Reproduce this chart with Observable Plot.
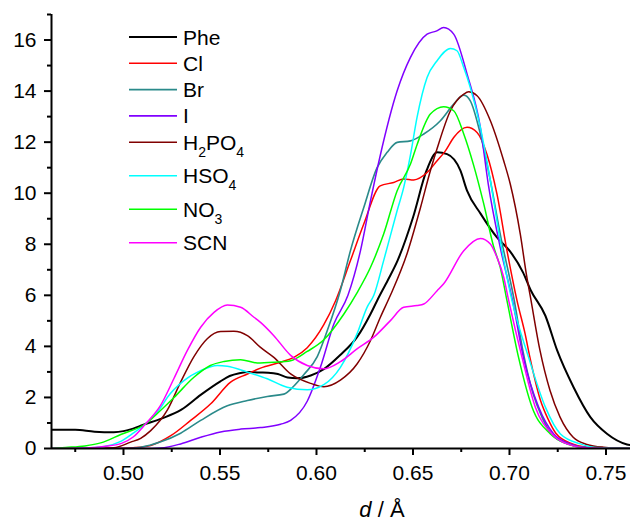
<!DOCTYPE html>
<html>
<head>
<meta charset="utf-8">
<script src="https://cdn.jsdelivr.net/npm/d3@7"></script>
<script src="https://cdn.jsdelivr.net/npm/@observablehq/plot@0.6"></script>
<style>
  body { margin: 0; background: #fff; font-family: "Liberation Sans", Arial, sans-serif; }
</style>
</head>
<body>
<div id="wrap"></div>
<script>
// ---- data (d in Å, density) ----
const phe = [[0.4627,0.73],[0.475,0.73],[0.485,0.66],[0.495,0.64],[0.50,0.68],[0.505,0.78],[0.51,0.92],[0.52,1.18],[0.53,1.52],[0.54,2.1],[0.55,2.62],[0.555,2.84],[0.56,2.95],[0.565,3.0],[0.57,2.98],[0.575,2.97],[0.58,2.92],[0.585,2.78],[0.59,2.75],[0.597,2.86],[0.604,3.12],[0.612,3.64],[0.621,4.36],[0.628,5.27],[0.6314,5.79],[0.637,6.6],[0.642,7.36],[0.650,9.05],[0.657,10.88],[0.6625,11.6],[0.6677,11.53],[0.6746,10.88],[0.678,10.1],[0.685,9.2],[0.6935,8.27],[0.70,7.75],[0.707,6.9],[0.711,6.2],[0.7186,5.2],[0.7247,3.84],[0.7332,2.4],[0.7419,1.23],[0.7505,0.58],[0.7609,0.16],[0.7627,0.13]];
const cl = [[0.4627,0],[0.495,0],[0.505,0.03],[0.5141,0.12],[0.5245,0.5],[0.5348,1.1],[0.5452,1.75],[0.5555,2.6],[0.5642,2.92],[0.571,3.15],[0.5814,3.38],[0.5883,3.57],[0.5952,3.95],[0.6038,4.85],[0.6099,5.79],[0.6176,7.36],[0.6245,8.79],[0.633,10.29],[0.64,10.42],[0.6452,10.56],[0.6504,10.52],[0.6573,10.81],[0.6625,11.27],[0.6668,11.66],[0.6711,12.18],[0.678,12.58],[0.6832,12.38],[0.6883,11.53],[0.6935,9.97],[0.6987,7.75],[0.7039,5.79],[0.7081,4.49],[0.7105,3.6],[0.716,1.9],[0.72,1.15],[0.724,0.6],[0.7326,0.18],[0.74,0.05],[0.7627,0]];
const br = [[0.4627,0],[0.50,0],[0.5089,0.05],[0.5193,0.26],[0.5296,0.6],[0.54,1.1],[0.5538,1.67],[0.5642,1.88],[0.5745,2.04],[0.5831,2.13],[0.5883,2.45],[0.5935,2.9],[0.6004,3.6],[0.6056,4.62],[0.6124,6.2],[0.6176,7.75],[0.6245,9.44],[0.6314,11.0],[0.6366,11.6],[0.6418,11.99],[0.6487,12.05],[0.6556,12.32],[0.6642,12.84],[0.6711,13.49],[0.6763,13.84],[0.6797,13.62],[0.6849,12.32],[0.6901,10.49],[0.6952,8.4],[0.7025,5.79],[0.707,3.8],[0.712,2.2],[0.717,1.2],[0.722,0.55],[0.73,0.18],[0.74,0.04],[0.7627,0]];
const iod = [[0.4627,0],[0.51,0],[0.5193,0.02],[0.5296,0.18],[0.54,0.44],[0.5503,0.65],[0.5607,0.76],[0.571,0.82],[0.5814,0.95],[0.5866,1.1],[0.5952,1.85],[0.6021,3.2],[0.609,4.88],[0.6163,6.0],[0.6228,7.75],[0.628,9.71],[0.6328,11.4],[0.6418,14.01],[0.6487,15.32],[0.6573,16.23],[0.662,16.35],[0.6659,16.49],[0.6711,16.23],[0.678,14.67],[0.6849,12.58],[0.689,10.36],[0.6952,7.88],[0.7016,5.79],[0.7072,3.57],[0.7151,1.62],[0.7229,0.57],[0.7315,0.18],[0.74,0.04],[0.7627,0]];
const h2po4 = [[0.4627,0],[0.485,0],[0.495,0.03],[0.5037,0.25],[0.5089,0.4],[0.5141,0.7],[0.5227,1.5],[0.5296,2.6],[0.5365,3.6],[0.5434,4.3],[0.5503,4.58],[0.5572,4.59],[0.5642,4.42],[0.571,3.96],[0.5779,3.57],[0.5866,2.92],[0.597,2.55],[0.6038,2.42],[0.6124,2.68],[0.621,3.31],[0.628,4.23],[0.6331,5.14],[0.6383,6.0],[0.647,7.65],[0.6539,9.44],[0.659,10.88],[0.6625,11.75],[0.6694,13.23],[0.6763,13.88],[0.6789,13.97],[0.6832,13.82],[0.6901,12.84],[0.697,11.27],[0.7004,10.36],[0.7056,8.4],[0.709,6.71],[0.7107,6.0],[0.7158,3.84],[0.721,2.27],[0.7262,1.23],[0.733,0.44],[0.7401,0.16],[0.7487,0.05],[0.7627,0]];
const hso4 = [[0.4627,0],[0.48,0.02],[0.49,0.08],[0.4986,0.28],[0.505,0.6],[0.5115,0.97],[0.5193,1.6],[0.5227,2.0],[0.5313,2.66],[0.54,3.05],[0.5486,3.25],[0.5538,3.22],[0.5642,2.99],[0.5745,2.73],[0.5848,2.4],[0.5952,2.3],[0.6038,2.5],[0.6124,3.18],[0.621,4.49],[0.6262,5.53],[0.6297,6.0],[0.6348,7.36],[0.6418,9.32],[0.6452,10.23],[0.6487,11.5],[0.6521,12.97],[0.6573,14.53],[0.6625,15.19],[0.6694,15.67],[0.6728,15.58],[0.6763,14.92],[0.6797,14.14],[0.6849,12.58],[0.6901,10.49],[0.6952,8.14],[0.7013,5.79],[0.7099,3.57],[0.7186,1.62],[0.7264,0.57],[0.7367,0.18],[0.745,0.04],[0.7627,0]];
const no3 = [[0.4627,0],[0.47,0.04],[0.48,0.1],[0.4882,0.22],[0.4986,0.55],[0.5115,0.97],[0.5193,1.5],[0.5262,2.0],[0.5365,2.79],[0.545,3.25],[0.5521,3.41],[0.5607,3.48],[0.5693,3.35],[0.5779,3.38],[0.5866,3.44],[0.5952,3.8],[0.6038,4.26],[0.6142,5.27],[0.621,6.1],[0.628,7.1],[0.6348,8.4],[0.6418,10.1],[0.6487,11.14],[0.6521,11.9],[0.659,13.1],[0.6659,13.39],[0.6711,13.23],[0.6763,12.32],[0.6814,11.1],[0.6866,9.6],[0.6918,7.9],[0.6952,7.1],[0.6987,5.79],[0.7047,3.57],[0.7117,1.62],[0.7212,0.57],[0.7298,0.18],[0.74,0.03],[0.7627,0]];
const scn = [[0.4627,0],[0.48,0.02],[0.49,0.08],[0.499,0.2],[0.505,0.45],[0.5115,0.97],[0.5193,1.7],[0.5262,2.75],[0.5331,3.84],[0.54,4.75],[0.5469,5.33],[0.5538,5.62],[0.5607,5.53],[0.5676,5.14],[0.571,4.94],[0.5779,4.42],[0.5866,3.65],[0.5952,3.25],[0.6038,3.12],[0.6124,3.4],[0.621,3.9],[0.6297,4.36],[0.6383,5.01],[0.6452,5.53],[0.6521,5.6],[0.6556,5.66],[0.6625,6.18],[0.6659,6.45],[0.6763,7.75],[0.6849,8.23],[0.6901,8.01],[0.6935,7.49],[0.697,6.71],[0.6996,5.79],[0.7065,3.57],[0.7134,1.62],[0.722,0.57],[0.7298,0.18],[0.74,0.03],[0.7627,0]];

const seriesNames = ["Phe", "Cl", "Br", "I", "H2PO4", "HSO4", "NO3", "SCN"];
// label parts: [text, isSubscript]
const seriesLabelParts = [
  [["Phe", false]],
  [["Cl", false]],
  [["Br", false]],
  [["I", false]],
  [["H", false], ["2", true], ["PO", false], ["4", true]],
  [["HSO", false], ["4", true]],
  [["NO", false], ["3", true]],
  [["SCN", false]]
];
const seriesValues = [phe, cl, br, iod, h2po4, hso4, no3, scn];

const xDomain = [0.4627, 0.7627];
const yDomain = [0, 17];
const xMajorTicks = [0.50, 0.55, 0.60, 0.65, 0.70, 0.75];
const xMinorTicks = [0.475, 0.525, 0.575, 0.625, 0.675, 0.725];
const yMajorTicks = [0, 2, 4, 6, 8, 10, 12, 14, 16];
const yMinorTicks = [1, 3, 5, 7, 9, 11, 13, 15, 17];

// ---- styles ----
const seriesColors = ["#000000", "#ff0000", "#2a8a8a", "#8000ff", "#800000", "#00ffff", "#00ff00", "#ff00ff"];
const seriesWidths = [2, 1.5, 1.6, 1.5, 1.5, 1.5, 1.5, 1.5];
const font = '"Liberation Sans", Arial, sans-serif';

const chart = Plot.plot({
  width: 630,
  height: 523,
  marginLeft: 51,
  marginRight: 0,
  marginTop: 14,
  marginBottom: 75,
  style: { fontFamily: font, fontSize: "21px", background: "#fff", color: "#000", overflow: "visible" },
  x: { domain: xDomain },
  y: { domain: yDomain },
  marks: [
    ...seriesValues.map((vals, i) => Plot.line(vals, {
      x: d => d[0], y: d => d[1],
      stroke: seriesColors[i], strokeWidth: seriesWidths[i],
      curve: "monotone-x", clip: true
    })),
    Plot.axisX(xMajorTicks, { tickSize: 7, tickPadding: 10, strokeWidth: 2, tickFormat: d3.format(".2f"), label: null }),
    Plot.axisX(xMinorTicks, { tickSize: 4, strokeWidth: 2, tickFormat: () => "", label: null }),
    Plot.axisY(yMajorTicks, { tickSize: 7, tickPadding: 8, strokeWidth: 2, label: null }),
    Plot.axisY(yMinorTicks, { tickSize: 4, strokeWidth: 2, tickFormat: () => "", label: null }),
    Plot.ruleY([0], { strokeWidth: 2 }),
    Plot.ruleX([xDomain[0]], { y1: yDomain[0], y2: yDomain[1], strokeWidth: 2 })
  ]
});

const svg = d3.select(chart);
// enforce tick-label size on every axis text Plot produced
svg.selectAll("text").style("font-size", "21px").style("font-family", font);

// x-axis title with italic d
const title = svg.append("text")
  .attr("x", 382).attr("y", 517)
  .attr("text-anchor", "middle")
  .style("font-size", "22px")
  .style("font-family", font)
  .attr("fill", "#000");
title.append("tspan").attr("font-style", "italic").text("d");
title.append("tspan").text(" / Å");

// legend inside the plot frame
const lg = svg.append("g").attr("fill", "#000").attr("text-anchor", "start");
let yc = 37;
seriesNames.forEach((n, i) => {
  lg.append("line")
    .attr("x1", 129).attr("x2", 177)
    .attr("y1", yc).attr("y2", yc)
    .attr("stroke", seriesColors[i])
    .attr("stroke-width", i === 0 ? 2 : 1.6);
  const t = lg.append("text").attr("x", 183).attr("y", yc + 7.5)
    .style("font-size", "21px").style("font-family", font).attr("text-anchor", "start");
  let hasSub = false;
  seriesLabelParts[i].forEach(([txt, sub], j) => {
    const ts = t.append("tspan").text(txt);
    if (sub) { ts.style("font-size", "14px").attr("dy", 7); hasSub = true; }
    else if (j > 0 && seriesLabelParts[i][j - 1][1]) { ts.attr("dy", -7); }
  });
  yc += hasSub ? 33.5 : 26.3;
});

document.getElementById("wrap").appendChild(chart);
</script>
</body>
</html>
